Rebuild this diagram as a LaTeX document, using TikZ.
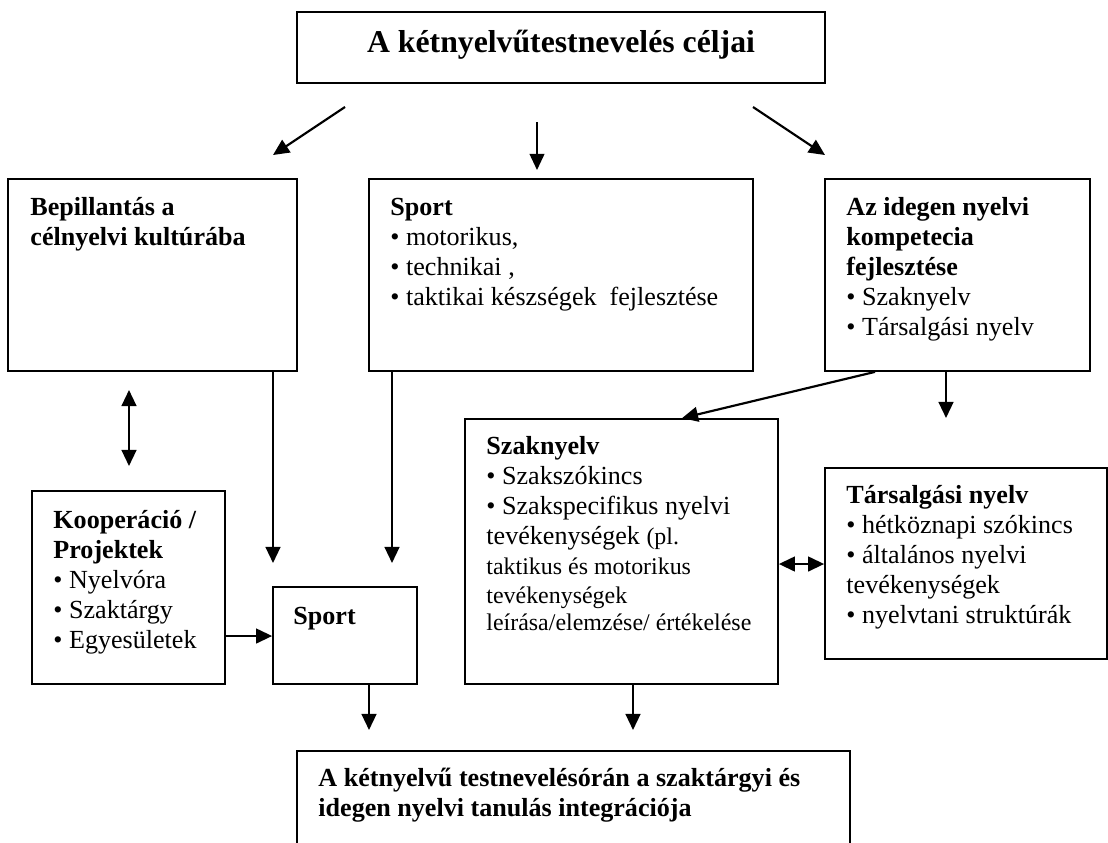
\documentclass[tikz,border=0pt]{standalone}
\usepackage{fontspec}
\setmainfont{Liberation Serif}
\usetikzlibrary{arrows.meta,fit}

\tikzset{
  box/.style={draw, line width=0.8pt, inner sep=0pt},
  txt/.style={anchor=base west, align=left, inner sep=0pt, font=\fontsize{12}{13.8}\selectfont},
  arr/.style={->, line width=1pt},
  darr/.style={<->, line width=1pt}
}

\begin{document}
\begin{tikzpicture}[x=0.46pt,y=-0.46pt,>={Triangle[length=7.4pt,width=6.8pt]}]
  \useasboundingbox (0,0) rectangle (1108,842);
  \clip (0,0) rectangle (1108,842);
  % boxes
  \node[box, fit={(297,12)(825,83)}] (goal) {};
  \node[box, fit={(8,179)(297,371)}] (bep) {};
  \node[box, fit={(369,179)(753,371)}] (sport) {};
  \node[box, fit={(825,179)(1090,371)}] (az) {};
  \node[box, fit={(32,491)(225,684)}] (koo) {};
  \node[box, fit={(273,587)(417,684)}] (spo) {};
  \node[box, fit={(465,419)(778,684)}] (sza) {};
  \node[box, fit={(825,468)(1107,659)}] (tar) {};
  \node[box, fit={(297,751)(850,900)}] (fin) {};
  % texts (anchored at the baseline of the last line)
  \node[anchor=base, inner sep=0pt, font=\bfseries\fontsize{14.6}{16}\selectfont] (goal-t) at (561,52)
    {A kétnyelvűtestnevelés céljai};
  \node[txt, font=\bfseries\fontsize{12}{13.8}\selectfont] (bep-t) at (30,245)
    {Bepillantás a\\célnyelvi kultúrába};
  \node[txt] (sport-t) at (390,305)
    {\textbf{Sport}\\• motorikus,\\• technikai ,\\• taktikai készségek\ \ fejlesztése};
  \node[txt] (az-t) at (846,335)
    {\textbf{Az idegen nyelvi}\\\textbf{kompetecia}\\\textbf{fejlesztése}\\• Szaknyelv\\• Társalgási nyelv};
  \node[txt] (koo-t) at (53,648)
    {\textbf{Kooperáció /}\\\textbf{Projektek}\\• Nyelvóra\\• Szaktárgy\\• Egyesületek};
  \node[txt] (spo-t) at (293,624) {\textbf{Sport}};
  \node[txt] (sza-t) at (486,630)
    {\textbf{Szaknyelv}\\• Szakszókincs\\• Szakspecifikus nyelvi\\tevékenységek {\fontsize{11}{13}\selectfont(pl.}\\
     {\fontsize{11}{13}\selectfont taktikus és motorikus}\\[-0.5pt]
     {\fontsize{11}{13}\selectfont tevékenységek}\\[-1.4pt]
     {\fontsize{11}{13}\selectfont leírása/elemzése/ értékelése}};
  \node[txt] (tar-t) at (846,623)
    {\textbf{Társalgási nyelv}\\• hétköznapi szókincs\\• általános nyelvi\\tevékenységek\\• nyelvtani struktúrák};
  \node[txt, font=\bfseries\fontsize{12}{13.8}\selectfont] (fin-t) at (318,816)
    {A kétnyelvű testnevelésórán a szaktárgyi és\\idegen nyelvi tanulás integrációja};
  % free arrow ends
  \coordinate (t1) at (345,107);
  \coordinate (b1) at (273,155);
  \coordinate (t2) at (537,122);
  \coordinate (b2) at (537,170);
  \coordinate (t3) at (753,107);
  \coordinate (b3) at (825,155);
  \coordinate (u1) at (129,390);
  \coordinate (u2) at (129,466);
  \coordinate (c1) at (273,563);
  \coordinate (c2) at (392,563);
  \coordinate (c3) at (875,0);
  \coordinate (c4) at (682,0);
  \coordinate (c5) at (946,418);
  \coordinate (c6) at (0,636);
  \coordinate (c7) at (369,730);
  \coordinate (c8) at (633,730);
  \coordinate (c9) at (0,564);
  % arrows
  \draw[arr] (t1) -- (b1);
  \draw[->, line width=0.7pt] (t2) -- (b2);
  \draw[arr] (t3) -- (b3);
  \draw[darr] (u1) -- (u2);
  \draw[arr] (bep.south -| c1) -- (c1);
  \draw[arr] (sport.south -| c2) -- (c2);
  \draw[arr] (az.south -| c3) -- (sza.north -| c4);
  \draw[arr] (az.south -| c5) -- (c5);
  \draw[arr] (koo.east |- c6) -- (spo.west |- c6);
  \draw[arr] (spo.south -| c7) -- (c7);
  \draw[arr] (sza.south -| c8) -- (c8);
  \draw[darr] (sza.east |- c9) -- (tar.west |- c9);
\end{tikzpicture}
\end{document}
